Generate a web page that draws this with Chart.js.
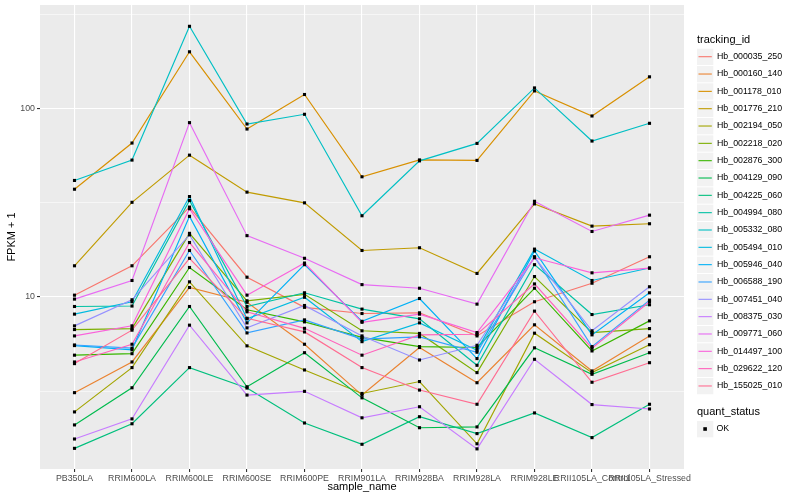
<!DOCTYPE html>
<html>
<head>
<meta charset="utf-8">
<script src="https://cdn.jsdelivr.net/npm/chart.js@4"></script>
<style>
  html, body { margin: 0; padding: 0; background: #fff; }
  #wrap { width: 800px; height: 500px; }
</style>
</head>
<body>
<div id="wrap"><canvas id="chart" width="800" height="500"></canvas></div>
<script>
// DATA
const SAMPLES = ["PB350LA", "RRIM600LA", "RRIM600LE", "RRIM600SE", "RRIM600PE", "RRIM901LA",
  "RRIM928BA", "RRIM928LA", "RRIM928LE", "RRII105LA_Control", "RRII105LA_Stressed"];

const Y_BREAKS = [10, 100];
const Y_MINOR = [3.1623, 31.623, 316.23];

// FPKM + 1 per tracking_id, in sample order
const hb_000035_250 = [10.2, 14.6, 29.9, 12.7, 8.79, 8.15, 8.22, 6.20, 9.41, 11.8, 16.3];
const hb_000160_140 = [3.10, 4.51, 11.2, 9.35, 5.60, 3.01, 5.38, 3.50, 7.10, 4.04, 6.20];
const hb_001178_010 = [37.2, 65.4, 199.3, 77.6, 118.3, 43.3, 53.2, 52.9, 123.6, 91.0, 146.8];
const hb_001776_210 = [14.6, 31.7, 56.4, 35.9, 31.5, 17.6, 18.2, 13.3, 31.1, 23.7, 24.4];
const hb_002194_050 = [2.45, 4.21, 12.0, 5.49, 4.09, 3.07, 3.55, 1.66, 6.41, 3.96, 5.57];
const hb_002218_020 = [6.70, 6.78, 21.7, 9.52, 10.3, 6.60, 6.39, 3.96, 12.8, 6.46, 6.78];
const hb_002876_300 = [4.90, 4.99, 14.3, 8.53, 7.36, 6.09, 5.44, 5.38, 11.1, 5.16, 7.45];
const hb_004129_090 = [2.09, 3.29, 8.88, 3.33, 5.05, 2.91, 2.02, 2.04, 5.36, 3.88, 5.05];
const hb_004225_060 = [1.57, 2.12, 4.21, 3.28, 2.14, 1.65, 2.31, 1.88, 2.42, 1.79, 2.69];
const hb_004994_080 = [8.88, 8.93, 32.4, 8.88, 10.5, 8.60, 7.64, 4.33, 14.8, 8.05, 9.07];
const hb_005332_080 = [41.4, 53.1, 272.1, 82.5, 92.9, 26.9, 52.6, 65.1, 128.2, 67.0, 83.2];
const hb_005494_010 = [8.09, 9.41, 34.0, 7.64, 9.94, 5.78, 7.27, 5.21, 17.9, 12.2, 14.2];
const hb_005946_040 = [5.51, 5.23, 26.7, 7.27, 14.8, 7.41, 9.79, 4.70, 17.5, 6.28, 10.5];
const hb_006588_190 = [5.55, 5.34, 17.6, 6.43, 7.54, 5.96, 6.13, 5.08, 16.3, 5.44, 9.60];
const hb_007451_040 = [7.01, 9.64, 21.3, 6.84, 8.99, 6.20, 4.62, 5.53, 16.2, 6.60, 11.3];
const hb_008375_030 = [1.76, 2.25, 7.07, 3.01, 3.15, 2.28, 2.61, 1.56, 4.66, 2.68, 2.54];
const hb_009771_060 = [9.72, 12.2, 83.9, 21.1, 16.0, 11.6, 11.1, 9.14, 32.1, 22.2, 27.1];
const hb_014497_100 = [6.20, 7.01, 29.3, 10.2, 15.1, 7.32, 8.09, 6.46, 16.1, 13.4, 14.2];
const hb_029622_120 = [4.51, 5.60, 19.4, 8.32, 6.80, 4.90, 6.28, 6.33, 11.7, 5.34, 9.41];
const hb_155025_010 = [4.42, 6.65, 16.0, 7.69, 6.51, 4.21, 3.20, 2.69, 8.39, 3.52, 4.47];

const TRACKING_IDS = ["Hb_000035_250", "Hb_000160_140", "Hb_001178_010", "Hb_001776_210",
  "Hb_002194_050", "Hb_002218_020", "Hb_002876_300", "Hb_004129_090", "Hb_004225_060",
  "Hb_004994_080", "Hb_005332_080", "Hb_005494_010", "Hb_005946_040", "Hb_006588_190",
  "Hb_007451_040", "Hb_008375_030", "Hb_009771_060", "Hb_014497_100", "Hb_029622_120",
  "Hb_155025_010"];

const SERIES = [hb_000035_250, hb_000160_140, hb_001178_010, hb_001776_210, hb_002194_050,
  hb_002218_020, hb_002876_300, hb_004129_090, hb_004225_060, hb_004994_080, hb_005332_080,
  hb_005494_010, hb_005946_040, hb_006588_190, hb_007451_040, hb_008375_030, hb_009771_060,
  hb_014497_100, hb_029622_120, hb_155025_010];

// ggplot default hue palette, 20 levels
const COLORS = ["#F8766D", "#EA8331", "#D89000", "#C09B00", "#A3A500", "#7CAE00", "#39B600",
  "#00BB4E", "#00BF7D", "#00C1A3", "#00BFC4", "#00BAE0", "#00B0F6", "#35A2FF", "#9590FF",
  "#C77CFF", "#E76BF3", "#FA62DB", "#FF62BC", "#FF6C91"];

const FONT = '"Liberation Sans", Arial, Helvetica, sans-serif';
Chart.defaults.font.family = FONT;

// PLUGINS
const panelBackground = {
  id: "panelBackground",
  beforeDraw(chart) {
    const { ctx, chartArea: a } = chart;
    ctx.save();
    ctx.fillStyle = "#EBEBEB";
    ctx.fillRect(a.left, a.top, a.right - a.left, a.bottom - a.top);
    ctx.restore();
  }
};

const ggLegend = {
  id: "ggLegend",
  afterDraw(chart) {
    const ctx = chart.ctx;
    const x0 = 697;
    ctx.save();
    ctx.textAlign = "left";
    ctx.textBaseline = "middle";

    ctx.fillStyle = "#000";
    ctx.font = "11px " + FONT;
    ctx.fillText("tracking_id", x0, 39.5);

    TRACKING_IDS.forEach((id, i) => {
      const cy = 56.7 + i * 17.33;
      ctx.fillStyle = "#F2F2F2";
      ctx.fillRect(x0, cy - 8, 16.3, 16.3);
      ctx.strokeStyle = COLORS[i];
      ctx.lineWidth = 1.1;
      ctx.beginPath();
      ctx.moveTo(x0 + 1.5, cy);
      ctx.lineTo(x0 + 14.8, cy);
      ctx.stroke();
      ctx.fillStyle = "#000";
      ctx.font = "8.8px " + FONT;
      ctx.fillText(id, 717, cy);
    });

    ctx.fillStyle = "#000";
    ctx.font = "11px " + FONT;
    ctx.fillText("quant_status", x0, 411.5);

    const cy = 429;
    ctx.fillStyle = "#F2F2F2";
    ctx.fillRect(x0, cy - 8, 16.3, 16.3);
    ctx.fillStyle = "#000";
    ctx.fillRect(x0 + 6.3, cy - 1.8, 3.6, 3.6);
    ctx.font = "8.8px " + FONT;
    ctx.fillText("OK", 716.5, cy);

    ctx.restore();
  }
};

// DATASETS
const lineSets = SERIES.map((values, i) => ({
  label: TRACKING_IDS[i],
  data: values.map((v, j) => ({ x: j, y: v })),
  borderColor: COLORS[i],
  borderWidth: 1.15,
  pointRadius: 0,
  tension: 0,
  order: 100 - i
}));

const pointSet = {
  label: "OK",
  data: SERIES.flatMap(values => values.map((v, j) => ({ x: j, y: v }))),
  showLine: false,
  pointStyle: "rect",
  pointRadius: 2.2,
  pointBorderWidth: 0,
  pointBackgroundColor: "#000",
  order: 0
};

const isMajorY = v => Y_BREAKS.includes(v);

new Chart(document.getElementById("chart"), {
  type: "line",
  data: { datasets: [...lineSets, pointSet] },
  plugins: [panelBackground, ggLegend],
  options: {
    responsive: false,
    animation: false,
    layout: { padding: { left: 0, top: 5, right: 116, bottom: 0 } },
    plugins: { legend: { display: false }, tooltip: { enabled: false } },
    scales: {
      x: {
        type: "linear",
        bounds: "data",
        min: -0.6,
        max: 10.6,
        afterBuildTicks: s => { s.ticks = SAMPLES.map((_, i) => ({ value: i })); },
        afterFit: s => { s.height = 31; s.paddingLeft = 0; s.paddingRight = 0; },
        border: { display: false },
        grid: { color: "#FFFFFF", lineWidth: 1.1, tickColor: "#333333", tickLength: 3 },
        ticks: {
          callback: (v, i) => SAMPLES[i],
          autoSkip: false,
          maxRotation: 0,
          minRotation: 0,
          padding: 1,
          color: "#4D4D4D",
          font: { size: 8.8 }
        },
        title: {
          display: true,
          text: "sample_name",
          color: "#000",
          font: { size: 11 },
          padding: { top: 0, bottom: 6 }
        }
      },
      y: {
        type: "logarithmic",
        bounds: "data",
        min: 1.22,
        max: 353,
        afterBuildTicks: s => {
          s.ticks = [...Y_MINOR, ...Y_BREAKS].sort((a, b) => a - b).map(v => ({ value: v }));
        },
        afterFit: s => { s.width = 40; s.paddingTop = 0; s.paddingBottom = 0; },
        border: { display: false },
        grid: {
          color: "#FFFFFF",
          lineWidth: c => (isMajorY(c.tick.value) ? 1.1 : 0.55),
          tickColor: c => (isMajorY(c.tick.value) ? "#333333" : "rgba(0,0,0,0)"),
          tickLength: 3
        },
        ticks: {
          callback: v => (isMajorY(v) ? String(v) : ""),
          autoSkip: false,
          padding: 2,
          color: "#4D4D4D",
          font: { size: 8.8 }
        },
        title: {
          display: true,
          text: "FPKM + 1",
          color: "#000",
          font: { size: 11 },
          padding: { top: 5.4, bottom: 0 }
        }
      }
    }
  }
});
</script>
</body>
</html>
